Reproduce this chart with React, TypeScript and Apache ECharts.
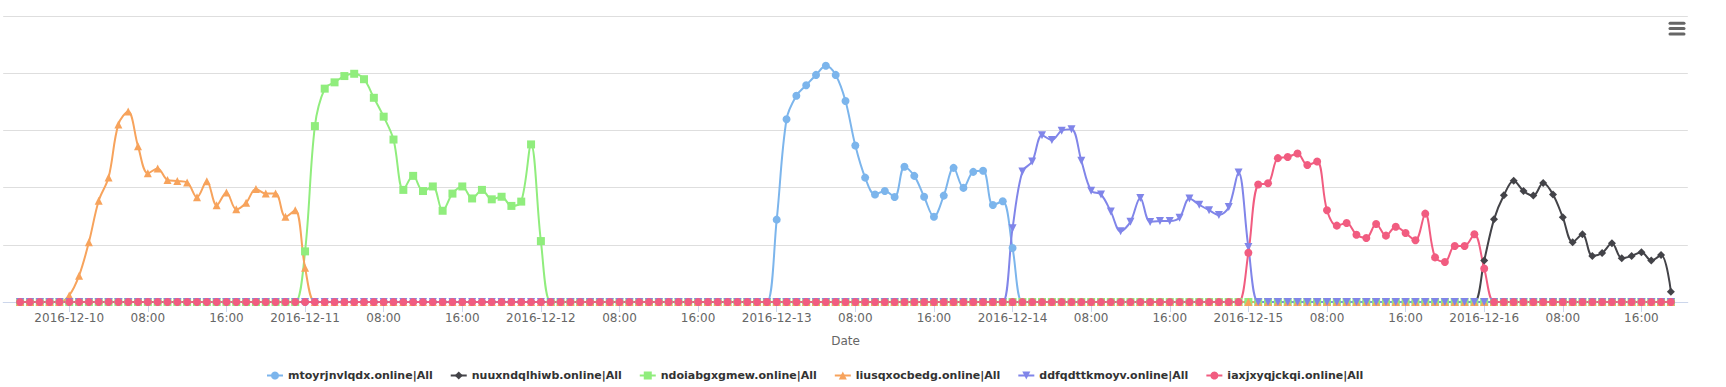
import React, { useEffect, useRef } from 'react';
import * as echarts from 'echarts';

// First sample: 2016-12-09 19:00 (UTC), hourly samples, 169 points (to 2016-12-16 19:00)
const FIRST_SAMPLE = Date.UTC(2016, 11, 9, 19);
const HOUR = 3600 * 1000;
const SAMPLE_COUNT = 169;

const seriesNames = [
  'mtoyrjnvlqdx.online|All',
  'nuuxndqlhiwb.online|All',
  'ndoiabgxgmew.online|All',
  'liusqxocbedg.online|All',
  'ddfqdttkmoyv.online|All',
  'iaxjxyqjckqi.online|All',
];

// rows: Dec 9 (19-23h), Dec 10 .. Dec 15 (24 h each), Dec 16 (0-19h)
const blueValues = [
  0, 0, 0, 0, 0,
  0,0,0,0,0,0, 0,0,0,0,0,0, 0,0,0,0,0,0, 0,0,0,0,0,0,
  0,0,0,0,0,0, 0,0,0,0,0,0, 0,0,0,0,0,0, 0,0,0,0,0,0,
  0,0,0,0,0,0, 0,0,0,0,0,0, 0,0,0,0,0,0, 0,0,0,0,0,0,
  28.8, 63.9, 72.1, 75.8, 79.4, 82.6, 79.4, 70.3, 54.7, 43.5, 37.6, 38.8, 36.7, 47.3, 44.1, 36.8, 29.8, 37.2, 46.9, 39.9, 45.5, 45.9, 33.9, 35.2,
  18.9, 0,0,0,0,0, 0,0,0,0,0,0, 0,0,0,0,0,0, 0,0,0,0,0,0,
  0,0,0,0,0,0, 0,0,0,0,0,0, 0,0,0,0,0,0, 0,0,0,0,0,0,
  0,0,0,0,0,0, 0,0,0,0,0,0, 0,0,0,0,0,0, 0,0,
];

const blackValues = [
  0, 0, 0, 0, 0,
  0,0,0,0,0,0, 0,0,0,0,0,0, 0,0,0,0,0,0, 0,0,0,0,0,0,
  0,0,0,0,0,0, 0,0,0,0,0,0, 0,0,0,0,0,0, 0,0,0,0,0,0,
  0,0,0,0,0,0, 0,0,0,0,0,0, 0,0,0,0,0,0, 0,0,0,0,0,0,
  0,0,0,0,0,0, 0,0,0,0,0,0, 0,0,0,0,0,0, 0,0,0,0,0,0,
  0,0,0,0,0,0, 0,0,0,0,0,0, 0,0,0,0,0,0, 0,0,0,0,0,0,
  0,0,0,0,0,0, 0,0,0,0,0,0, 0,0,0,0,0,0, 0,0,0,0,0,0,
  14.5, 28.9, 37.3, 42.4, 38.8, 37.2, 41.6, 37.6, 29.6, 20.9, 23.7, 16.1, 17.1, 20.5, 15.3, 16.1, 17.4, 14.5, 16.4, 3.6,
];

const greenValues = [
  0, 0, 0, 0, 0,
  0,0,0,0,0,0, 0,0,0,0,0,0, 0,0,0,0,0,0, 0,0,0,0,0,0,
  17.7, 61.5, 74.6, 76.8, 79.0, 79.8, 77.9, 71.4, 64.8, 56.8, 39.2, 44.1, 38.8, 40.4, 31.9, 37.9, 40.4, 36.2, 39.2, 35.9, 36.8, 33.6, 35.1, 55.1,
  21.3, 0,0,0,0,0, 0,0,0,0,0,0, 0,0,0,0,0,0, 0,0,0,0,0,0,
  0,0,0,0,0,0, 0,0,0,0,0,0, 0,0,0,0,0,0, 0,0,0,0,0,0,
  0,0,0,0,0,0, 0,0,0,0,0,0, 0,0,0,0,0,0, 0,0,0,0,0,0,
  0,0,0,0,0,0, 0,0,0,0,0,0, 0,0,0,0,0,0, 0,0,0,0,0,0,
  0,0,0,0,0,0, 0,0,0,0,0,0, 0,0,0,0,0,0, 0,0,
];

const orangeValues = [
  0, 0, 0, 0, 0,
  2.3, 9.2, 20.9, 35.4, 43.5, 62.1, 66.6, 54.5, 45.0, 46.7, 42.7, 42.3, 41.8, 36.6, 42.2, 33.8, 38.3, 32.4, 34.7, 39.5, 37.9, 37.9, 29.8, 32.1,
  12.0, 0,0,0,0,0, 0,0,0,0,0,0, 0,0,0,0,0,0, 0,0,0,0,0,0,
  0,0,0,0,0,0, 0,0,0,0,0,0, 0,0,0,0,0,0, 0,0,0,0,0,0,
  0,0,0,0,0,0, 0,0,0,0,0,0, 0,0,0,0,0,0, 0,0,0,0,0,0,
  0,0,0,0,0,0, 0,0,0,0,0,0, 0,0,0,0,0,0, 0,0,0,0,0,0,
  0,0,0,0,0,0, 0,0,0,0,0,0, 0,0,0,0,0,0, 0,0,0,0,0,0,
  0,0,0,0,0,0, 0,0,0,0,0,0, 0,0,0,0,0,0, 0,0,
];

const purpleValues = [
  0, 0, 0, 0, 0,
  0,0,0,0,0,0, 0,0,0,0,0,0, 0,0,0,0,0,0, 0,0,0,0,0,0,
  0,0,0,0,0,0, 0,0,0,0,0,0, 0,0,0,0,0,0, 0,0,0,0,0,0,
  0,0,0,0,0,0, 0,0,0,0,0,0, 0,0,0,0,0,0, 0,0,0,0,0,0,
  0,0,0,0,0,0, 0,0,0,0,0,0, 0,0,0,0,0,0, 0,0,0,0,0,0,
  25.8, 45.6, 49.1, 58.3, 56.6, 59.9, 60.4, 49.4, 38.9, 37.6, 31.6, 24.7, 28.1, 36.4, 28.0, 28.3, 28.3, 29.5, 36.2, 34.0, 32.1, 30.4, 33.2, 45.3,
  19.2, 0,0,0,0,0, 0,0,0,0,0,0, 0,0,0,0,0,0, 0,0,0,0,0,0,
  0,0,0,0,0,0, 0,0,0,0,0,0, 0,0,0,0,0,0, 0,0,
];

const pinkValues = [
  0, 0, 0, 0, 0,
  0,0,0,0,0,0, 0,0,0,0,0,0, 0,0,0,0,0,0, 0,0,0,0,0,0,
  0,0,0,0,0,0, 0,0,0,0,0,0, 0,0,0,0,0,0, 0,0,0,0,0,0,
  0,0,0,0,0,0, 0,0,0,0,0,0, 0,0,0,0,0,0, 0,0,0,0,0,0,
  0,0,0,0,0,0, 0,0,0,0,0,0, 0,0,0,0,0,0, 0,0,0,0,0,0,
  0,0,0,0,0,0, 0,0,0,0,0,0, 0,0,0,0,0,0, 0,0,0,0,0,0,
  17.2, 41.1, 41.5, 50.3, 50.7, 51.9, 47.9, 49.1, 32.1, 26.7, 27.6, 23.5, 22.4, 27.3, 23.2, 26.3, 24.1, 21.6, 30.9, 15.6, 14.0, 19.6, 19.6, 23.7,
  11.7, 0,0,0,0,0,0, 0,0,0,0,0,0, 0,0,0,0,0,0, 0,
];

const tickLabelTimes = [
  '2016-12-10T00:00Z', '2016-12-10T08:00Z', '2016-12-10T16:00Z',
  '2016-12-11T00:00Z', '2016-12-11T08:00Z', '2016-12-11T16:00Z',
  '2016-12-12T00:00Z', '2016-12-12T08:00Z', '2016-12-12T16:00Z',
  '2016-12-13T00:00Z', '2016-12-13T08:00Z', '2016-12-13T16:00Z',
  '2016-12-14T00:00Z', '2016-12-14T08:00Z', '2016-12-14T16:00Z',
  '2016-12-15T00:00Z', '2016-12-15T08:00Z', '2016-12-15T16:00Z',
  '2016-12-16T00:00Z', '2016-12-16T08:00Z', '2016-12-16T16:00Z',
];

const seriesValues = [blueValues, blackValues, greenValues, orangeValues, purpleValues, pinkValues];
const seriesColors = ['#7cb5ec', '#434348', '#90ed7d', '#f7a35c', '#8085e9', '#f15c80'];
const seriesSymbols = ['circle', 'diamond', 'rect', 'triangle', 'path://M0,0L10,0L5,10Z', 'circle'];

const pad2 = (n: number) => (n < 10 ? '0' + n : '' + n);

export default function App() {
  const ref = useRef<HTMLDivElement>(null);

  useEffect(() => {
    document.body.style.margin = '0';
    if (!ref.current) return;
    const chart = echarts.init(ref.current, undefined, { renderer: 'svg' });

    const times: number[] = [];
    for (let i = 0; i < SAMPLE_COUNT; i++) times.push(FIRST_SAMPLE + i * HOUR);
    const tickValues = tickLabelTimes.map((s) => Date.parse(s));
    const font = 'DejaVu Sans';

    const option: any = {
      animation: false,
      textStyle: { fontFamily: font },
      grid: { left: 3.2, right: 38.2, top: 16, bottom: 85, containLabel: false },
      xAxis: {
        type: 'value',
        min: FIRST_SAMPLE - 1.72 * HOUR,
        max: FIRST_SAMPLE + 168 * HOUR + 1.72 * HOUR,
        name: 'Date',
        nameLocation: 'middle',
        nameGap: 33,
        nameTextStyle: { color: '#666666', fontSize: 12, fontFamily: font },
        axisLine: { show: true, lineStyle: { color: '#ccd6eb', width: 1 } },
        axisTick: { show: true, length: 10, lineStyle: { color: '#ccd6eb' }, customValues: tickValues },
        axisLabel: {
          customValues: tickValues,
          color: '#666666',
          fontSize: 12,
          fontFamily: font,
          margin: 10,
          formatter: (val: number) => {
            const d = new Date(val);
            if (d.getUTCHours() === 0) {
              return d.getUTCFullYear() + '-' + pad2(d.getUTCMonth() + 1) + '-' + pad2(d.getUTCDate());
            }
            return pad2(d.getUTCHours()) + ':' + pad2(d.getUTCMinutes());
          },
        },
        splitLine: { show: false },
      },
      yAxis: {
        type: 'value',
        min: 0,
        max: 100,
        interval: 20,
        axisLabel: { show: false },
        axisLine: { show: false },
        axisTick: { show: false },
        splitLine: { show: true, lineStyle: { color: '#dedede', width: 1 } },
      },
      legend: {
        left: 261,
        top: 365,
        itemWidth: 16,
        itemHeight: 10,
        itemGap: 17,
        textStyle: { fontFamily: font, fontSize: 11, fontWeight: 'bold', color: '#333333' },
        data: seriesNames,
      },
      series: seriesNames.map((name, k) => ({
        name,
        type: 'line',
        data: times.map((t, i) => [t, seriesValues[k][i]]),
        smooth: 0.35,
        symbol: seriesSymbols[k],
        symbolSize: 8,
        showSymbol: true,
        showAllSymbol: true,
        lineStyle: { width: 2, color: seriesColors[k] },
        itemStyle: { color: seriesColors[k] },
        emphasis: { disabled: true },
      })),
      graphic: [0, 1, 2].map((j) => ({
        type: 'line',
        shape: { x1: 1670, y1: 23.3 + j * 5.3, x2: 1684, y2: 23.3 + j * 5.3 },
        style: { stroke: '#666666', lineWidth: 3, lineCap: 'round' },
      })),
    };

    chart.setOption(option);
    return () => chart.dispose();
  }, []);

  return <div ref={ref} style={{ width: 1726, height: 387 }} />;
}
